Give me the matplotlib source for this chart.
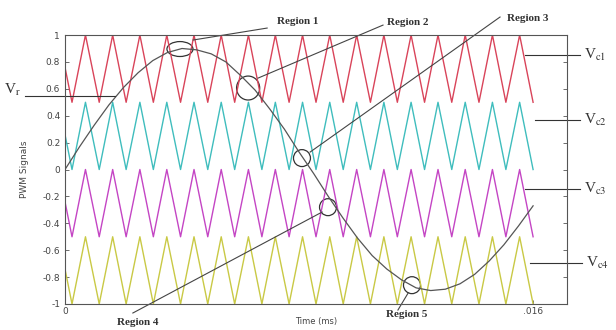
import matplotlib
matplotlib.use("Agg")
import matplotlib.pyplot as plt
from matplotlib.patches import Ellipse

# carrier vertices (ms) and level inside each band (0 = bottom, 1 = top)
carrier_t = [0, 0.24, 0.70, 1.17, 1.63, 2.09, 2.56, 3.02, 3.48, 3.95, 4.41, 4.88,
             5.34, 5.80, 6.27, 6.73, 7.19, 7.66, 8.12, 8.58, 9.05, 9.51, 9.97,
             10.44, 10.90, 11.36, 11.83, 12.29, 12.75, 13.22, 13.68, 14.15,
             14.61, 15.07, 15.54, 16.00]
carrier_level = [0.52] + [0, 1] * 17 + [0]
band_low = [0.5, 0.0, -0.5, -1.0]
band_colors = ['#d9445a', '#3fbdbd', '#c445c4', '#c9c945']
carrier_names = ['V$_{\\rm c1}$', 'V$_{\\rm c2}$', 'V$_{\\rm c3}$', 'V$_{\\rm c4}$']

# reference (modulating) signal
ref_t = [0, 0.5, 1, 1.5, 2, 2.5, 3, 3.5, 4, 4.5, 5, 5.5, 6, 6.5, 7, 7.5, 8, 8.5,
         9, 9.5, 10, 10.5, 11, 11.5, 12, 12.5, 13, 13.5, 14, 14.5, 15, 15.5, 16]
ref_v = [0, 0.17, 0.33, 0.48, 0.61, 0.72, 0.81, 0.87, 0.90, 0.89, 0.86, 0.80,
         0.70, 0.59, 0.45, 0.30, 0.13, -0.03, -0.20, -0.36, -0.51, -0.64, -0.74,
         -0.82, -0.88, -0.90, -0.89, -0.85, -0.78, -0.68, -0.56, -0.42, -0.27]

# regions: circle centre, circle size, leader line, label position
region_names = ['Region 1', 'Region 2', 'Region 3', 'Region 4', 'Region 5']
region_xy = [(3.93, 0.896), (6.26, 0.606), (8.10, 0.085), (8.99, -0.28), (11.86, -0.86)]
region_wh = [(0.89, 0.111), (0.79, 0.178), (0.58, 0.126), (0.58, 0.126), (0.58, 0.126)]
region_line = [((4.38, 6.91), (0.963, 1.052)),
               ((6.60, 10.87), (0.680, 1.074)),
               ((8.38, 14.87), (0.13, 1.134)),
               ((8.79, 2.32), (-0.316, -1.067)),
               ((11.73, 11.38), (-0.918, -1.045))]
region_text = [(7.25, 1.10, 'left'), (11.01, 1.097, 'left'), (15.11, 1.126, 'left'),
               (2.50, -1.134, 'center'), (11.69, -1.08, 'center')]

# carrier label lines on the right
vc_line_x = [(15.73, 17.61), (16.07, 17.61), (15.73, 17.61), (15.90, 17.68)]
vc_line_y = [0.851, 0.368, -0.145, -0.695]

plt.rcParams['mathtext.fontset'] = 'stix'

fig = plt.figure(figsize=(6.16, 3.30), dpi=100)
ax = fig.add_axes([0.1055, 0.0788, 0.815, 0.815])

for low, col in zip(band_low, band_colors):
    ax.plot(carrier_t, [low + 0.5 * c for c in carrier_level], color=col, lw=1.0)

ax.plot(ref_t, ref_v, color='#555555', lw=0.9)

for (cx, cy), (w, h) in zip(region_xy, region_wh):
    ax.add_patch(Ellipse((cx, cy), w, h, fill=False, ec='#333333', lw=0.9))

for (lx, ly), (tx, ty, ha), name in zip(region_line, region_text, region_names):
    ax.plot(lx, ly, color='#444444', lw=0.8, clip_on=False)
    ax.text(tx, ty, name, ha=ha, va='center', fontsize=8, fontweight='bold',
            family='Liberation Serif', color='#333333')

# V_r marker
ax.plot([-1.37, 1.71], [0.55, 0.55], color='#333333', lw=0.8, clip_on=False)
ax.text(-1.50, 0.59, 'V$_{\\rm r}$', ha='right', va='center', fontsize=11,
        family='Liberation Serif', color='#333333')

for (x0, x1), y, name in zip(vc_line_x, vc_line_y, carrier_names):
    ax.plot([x0, x1], [y, y], color='#333333', lw=0.8, clip_on=False)
    ax.text(x1 + 0.12, y, name, ha='left', va='center', fontsize=11,
            family='Liberation Serif', color='#333333')

ax.set_xlim(0, 17.16)
ax.set_ylim(-1, 1)
ax.set_xticks([0, 16])
ax.set_xticklabels(['0', '.016'])
yt = [1, 0.8, 0.6, 0.4, 0.2, 0, -0.2, -0.4, -0.6, -0.8, -1]
ax.set_yticks(yt)
ax.set_yticklabels(['1', '0.8', '0.6', '0.4', '0.2', '0', '-0.2', '-0.4', '-0.6', '-0.8', '-1'])
ax.tick_params(direction='in', right=True, length=3, labelsize=6.5,
               labelcolor='#444444', color='#555555', width=0.6)
ax.tick_params(axis='x', pad=2)
for s in ax.spines.values():
    s.set_color('#555555')
    s.set_linewidth(0.8)

ax.set_xlabel('Time (ms)', fontsize=6, color='#444444', labelpad=1)
ax.set_ylabel('PWM Signals', fontsize=6.5, color='#444444', labelpad=10)

fig.savefig('out.png', dpi=100)
